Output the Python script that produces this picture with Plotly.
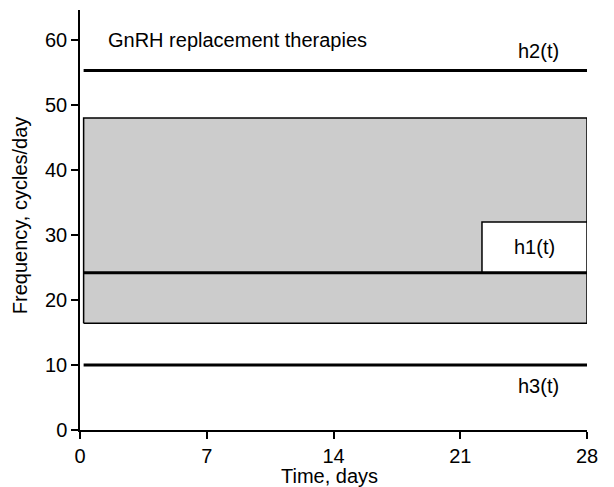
import plotly.graph_objects as go

# ---- data ----
x_ticks = [0, 7, 14, 21, 28]
y_ticks = [0, 10, 20, 30, 40, 50, 60]
t_start, t_end = 0.2, 28.0
h2_level = 55.3
h1_level = 24.2
h3_level = 10.0
band_low, band_high = 16.4, 48.0
box_x0, box_x1 = 22.2, 28.0
box_y0, box_y1 = 24.2, 32.0

FONT = "Liberation Sans, Arial, Helvetica, sans-serif"
FS = 20

fig = go.Figure()

# gray band
fig.add_trace(go.Scatter(
    x=[t_start, t_end, t_end, t_start, t_start],
    y=[band_low, band_low, band_high, band_high, band_low],
    mode="lines", fill="toself", fillcolor="#cccccc",
    line=dict(color="black", width=1.5), hoverinfo="skip", showlegend=False))

# white box
fig.add_trace(go.Scatter(
    x=[box_x0, box_x1, box_x1, box_x0, box_x0],
    y=[box_y0, box_y0, box_y1, box_y1, box_y0],
    mode="lines", fill="toself", fillcolor="white",
    line=dict(color="black", width=1.5), hoverinfo="skip", showlegend=False))

# h lines
for lvl in (h2_level, h1_level, h3_level):
    fig.add_trace(go.Scatter(
        x=[t_start, t_end], y=[lvl, lvl], mode="lines",
        line=dict(color="black", width=3), hoverinfo="skip", showlegend=False))

fig.add_annotation(x=1.45, y=60, xref="x", yref="y", text="GnRH replacement therapies",
                   showarrow=False, xanchor="left", yanchor="middle",
                   font=dict(size=FS, color="black", family=FONT))
fig.add_annotation(x=25.3, y=58.3, text="h2(t)", showarrow=False,
                   font=dict(size=FS, color="black", family=FONT))
fig.add_annotation(x=(box_x0 + box_x1) / 2, y=(box_y0 + box_y1) / 2, text="h1(t)",
                   showarrow=False, font=dict(size=FS, color="black", family=FONT))
fig.add_annotation(x=25.3, y=6.8, text="h3(t)", showarrow=False,
                   font=dict(size=FS, color="black", family=FONT))

# axis titles
fig.add_annotation(xref="paper", yref="paper", x=0.493, y=-0.11, text="Time, days",
                   showarrow=False, xanchor="center", yanchor="middle",
                   font=dict(size=FS, color="black", family=FONT))
fig.add_annotation(xref="paper", yref="paper", x=-0.118, y=0.512,
                   text="Frequency, cycles/day", textangle=-90,
                   showarrow=False, xanchor="center", yanchor="middle",
                   font=dict(size=FS, color="black", family=FONT))

axis_common = dict(
    showgrid=False, zeroline=False, showline=True, linecolor="black", linewidth=1.5,
    ticks="outside", ticklen=7, tickwidth=1.5, tickcolor="black",
    tickfont=dict(size=FS, color="black", family=FONT), automargin=False,
)

fig.update_xaxes(range=[0, 28], tickvals=x_ticks, ticktext=[str(v) for v in x_ticks],
                 **axis_common)
fig.update_yaxes(range=[0, 64.6], tickvals=y_ticks, ticktext=[str(v) for v in y_ticks],
                 **axis_common)

fig.update_layout(
    width=614, height=487,
    margin=dict(l=80, r=27, t=10, b=57),
    plot_bgcolor="white", paper_bgcolor="white",
    font=dict(family=FONT, color="black"),
)

fig.write_html("out.html", config={"displayModeBar": False},
               post_script="document.body.style.margin='0';document.body.style.overflow='hidden';")
